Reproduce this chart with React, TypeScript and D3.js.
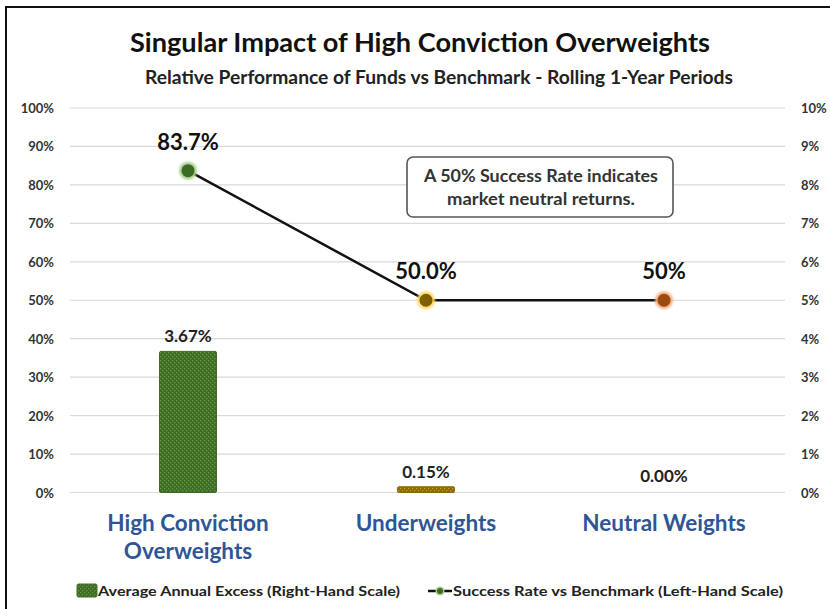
import React from "react";
import * as d3 from "d3";

const categories = ["High Conviction\nOverweights", "Underweights", "Neutral Weights"];
const excessValues = [3.67, 0.15, 0.0];
const excessLabels = ["3.67%", "0.15%", "0.00%"];
const successValues = [83.7, 50.0, 50.0];
const successLabels = ["83.7%", "50.0%", "50%"];
const leftTicks = [0, 10, 20, 30, 40, 50, 60, 70, 80, 90, 100];
const rightTicks = [0, 1, 2, 3, 4, 5, 6, 7, 8, 9, 10];

const barColors = ["#3f6b27", "#8a6a0e", "#8a4a14"];
const dotFill = ["#3d6b25", "#7f6000", "#9c4a12"];
const dotHalo = ["#a9d18e", "#ffd966", "#f4b183"];

const FONT = "Lato, 'Open Sans', sans-serif";

export default function App() {
  const W = 830, H = 609;
  const x0 = 70, x1 = 785;
  const yTop = 108, yBot = 492.5;
  const x = d3.scaleBand().domain(categories).range([69, 783]).paddingInner(0).paddingOuter(0);
  const yL = d3.scaleLinear().domain([0, 100]).range([yBot, yTop]);
  const yR = d3.scaleLinear().domain([0, 10]).range([yBot, yTop]);
  const cx = (c: string) => (x(c) as number) + x.bandwidth() / 2;
  const barW = 57;
  const line = d3.line<number>().x((_, i) => cx(categories[i])).y((d) => yL(d));
  const fit = { lengthAdjust: "spacingAndGlyphs" as const };

  return (
    <svg width={W} height={H} style={{ position: "absolute", left: 0, top: 0, background: "#fff" }} fontFamily={FONT}>
      <defs>
        {barColors.map((c, i) => (
          <pattern key={i} id={"pat" + i} width={4} height={4} patternUnits="userSpaceOnUse">
            <rect width={4} height={4} fill={c} />
            <rect x={0} y={0} width={1.3} height={1.3} fill={d3.color(c)!.brighter(1.3).toString()} opacity={0.8} />
            <rect x={2} y={2} width={1.3} height={1.3} fill={d3.color(c)!.brighter(1.3).toString()} opacity={0.8} />
          </pattern>
        ))}
        <filter id="glow" x="-50%" y="-50%" width="200%" height="200%">
          <feGaussianBlur stdDeviation="0.8" />
        </filter>
      </defs>
      <rect x={0} y={0} width={W} height={H} fill="#fff" />
      <rect x={6} y={7} width={840} height={640} fill="none" stroke="#111" strokeWidth={2} />

      <text x={420} y={52} textAnchor="middle" fontSize={26} fontWeight="bold" fill="#111" textLength={580} {...fit}>
        Singular Impact of High Conviction Overweights
      </text>
      <text x={439} y={84} textAnchor="middle" fontSize={18} fontWeight="bold" fill="#222" textLength={588} {...fit}>
        Relative Performance of Funds vs Benchmark - Rolling 1-Year Periods
      </text>

      {leftTicks.map((t) => (
        <g key={"g" + t}>
          <line x1={x0} x2={x1} y1={yL(t)} y2={yL(t)} stroke="#d9d9d9" strokeWidth={1.2} />
          <text x={54} y={yL(t) + 5} textAnchor="end" fontSize={13} fontWeight="bold" fill="#333">
            {t + "%"}
          </text>
        </g>
      ))}
      {rightTicks.map((t) => (
        <text key={"r" + t} x={801} y={yR(t) + 5} textAnchor="start" fontSize={13} fontWeight="bold" fill="#333">
          {t + "%"}
        </text>
      ))}

      {categories.map((c, i) => {
        const v = excessValues[i];
        const top = yR(v);
        return (
          <g key={"b" + i}>
            {v > 0 && (
              <rect x={cx(c) - barW / 2} y={top} width={barW} height={yBot - top} fill={`url(#pat${i})`} stroke={barColors[i]} strokeWidth={1} rx={1.5} />
            )}
            <text x={cx(c)} y={v > 0 ? top - 9 : yBot - 11} textAnchor="middle" fontSize={17} fontWeight="bold" fill="#222">
              {excessLabels[i]}
            </text>
          </g>
        );
      })}

      <path d={line(successValues) || ""} fill="none" stroke="#111" strokeWidth={2.5} />
      {categories.map((c, i) => (
        <g key={"p" + i}>
          <circle cx={cx(c)} cy={yL(successValues[i])} r={9} fill={dotHalo[i]} filter="url(#glow)" />
          <circle cx={cx(c)} cy={yL(successValues[i])} r={6.5} fill={dotFill[i]} />
          <text x={cx(c)} y={yL(successValues[i]) - 21} textAnchor="middle" fontSize={22} fontWeight="bold" fill="#111">
            {successLabels[i]}
          </text>
        </g>
      ))}

      <rect x={407} y={157} width={266} height={60} rx={6} fill="#fff" stroke="#555" strokeWidth={1.6} />
      <text x={541} y={182} textAnchor="middle" fontSize={16.5} fontWeight="bold" fill="#333" textLength={234} {...fit}>A 50% Success Rate indicates</text>
      <text x={541} y={205} textAnchor="middle" fontSize={16.5} fontWeight="bold" fill="#333" textLength={188} {...fit}>market neutral returns.</text>

      {categories.map((c, i) => (
        <text key={"c" + i} x={cx(c)} y={531} textAnchor="middle" fontSize={22.5} fontWeight="bold" fill="#2f5597">
          {c.split("\n").map((s, j) => (
            <tspan key={j} x={cx(c)} dy={j === 0 ? 0 : 28}>{s}</tspan>
          ))}
        </text>
      ))}

      <rect x={77} y={584} width={20} height={13} fill="url(#pat0)" stroke={barColors[0]} rx={1.5} />
      <text x={98} y={596} fontSize={14} fontWeight="bold" fill="#222" textLength={302} {...fit}>Average Annual Excess (Right-Hand Scale)</text>
      <line x1={428} x2={452} y1={591} y2={591} stroke="#111" strokeWidth={2.5} />
      <circle cx={440} cy={591} r={4.5} fill={dotHalo[0]} />
      <circle cx={440} cy={591} r={3} fill={dotFill[0]} />
      <text x={453} y={596} fontSize={14} fontWeight="bold" fill="#222" textLength={330} {...fit}>Success Rate vs Benchmark (Left-Hand Scale)</text>
    </svg>
  );
}
